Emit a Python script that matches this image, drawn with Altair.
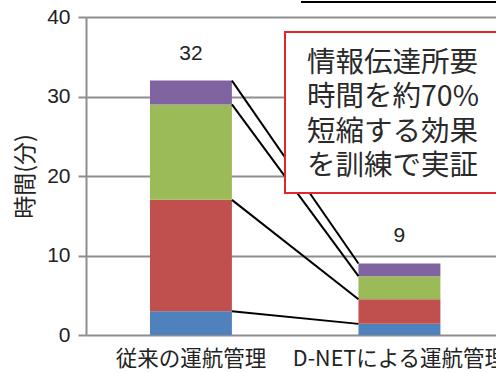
import altair as alt
import pandas as pd

# Time required per stage (minutes), stacked bottom to top
categories = ["従来の運航管理", "D-NETによる運航管理"]
stage_names = ["段階1", "段階2", "段階3", "段階4"]
stage_colors = ["#4F81BD", "#C0504D", "#9BBB59", "#8064A2"]
conventional = [3, 14, 12, 3]
dnet = [1.4, 3.1, 2.9, 1.6]
y_ticks = [0, 10, 20, 30, 40]
callout_lines = ["情報伝達所要", "時間を約70%", "短縮する効果", "を訓練で実証"]
y_title = "時間(分)"

CJK = "Noto Sans CJK JP"
LATIN = "Liberation Sans"
GRID = "#8e8e8e"
INK = "#222222"

rows = []
for cat, vals in zip(categories, [conventional, dnet]):
    for i, (name, v) in enumerate(zip(stage_names, vals)):
        rows.append({"category": cat, "stage": name, "idx": i, "value": v})
bars_df = pd.DataFrame(rows)

totals_df = pd.DataFrame({
    "category": categories,
    "total": [sum(conventional), sum(dnet)],
})

# Connector lines between matching segment boundaries of the two bars
def cumulative(vals):
    out, s = [], 0.0
    for v in vals:
        s += v
        out.append(s)
    return out

conn_df = pd.DataFrame({
    "src": categories[0],
    "dst": categories[1],
    "y_src": cumulative(conventional),
    "y_dst": cumulative(dnet),
})

x_scale = alt.Scale(domain=categories, paddingInner=0.607, paddingOuter=0.2867,
                    align=0.535, round=False)
y_scale = alt.Scale(domain=[0, 40], nice=False)

bars = alt.Chart(bars_df).mark_bar().encode(
    x=alt.X("category:N", scale=x_scale, sort=categories,
            axis=alt.Axis(title=None, labelAngle=0, domain=False, ticks=False,
                          labelFont=CJK, labelFontSize=21.5, labelColor=INK,
                          labelPadding=13, labelOverlap=False, labelLimit=500,
                          grid=False)),
    y=alt.Y("value:Q", stack="zero", scale=y_scale,
            axis=alt.Axis(values=y_ticks, title=y_title, titleFont=CJK,
                          titleFontSize=23, titleFontWeight="normal",
                          titleColor=INK, titlePadding=9,
                          labelFont=LATIN, labelFontSize=21, labelColor=INK,
                          labelPadding=8, tickSize=8, tickWidth=2, tickColor=GRID,
                          domainColor=GRID, domainWidth=2,
                          grid=True, gridColor=GRID, gridWidth=2)),
    color=alt.Color("stage:N", scale=alt.Scale(domain=stage_names, range=stage_colors),
                    legend=None),
    order=alt.Order("idx:Q"),
)

labels = alt.Chart(totals_df).mark_text(
    font=LATIN, fontSize=21, color=INK, dy=-27, baseline="middle"
).encode(
    x=alt.X("category:N", scale=x_scale, sort=categories),
    y=alt.Y("total:Q", scale=y_scale),
    text=alt.Text("total:Q", format=".0f"),
)

connectors = alt.Chart(conn_df).mark_rule(color="black", strokeWidth=2).encode(
    x=alt.X("src:N", scale=x_scale, bandPosition=1),
    x2=alt.X2("dst:N", bandPosition=0),
    y=alt.Y("y_src:Q", scale=y_scale),
    y2=alt.Y2("y_dst:Q"),
)

one = pd.DataFrame({"k": [0]})

callout_box = alt.Chart(one).mark_rect(
    fill="white", stroke="#E3262B", strokeWidth=2
).encode(
    x=alt.value(199), x2=alt.value(425), y=alt.value(15), y2=alt.value(176)
)

callout_text = alt.Chart(pd.DataFrame({"t": ["\n".join(callout_lines)]})).mark_text(
    font=CJK, fontSize=28.5, color="#2a2a2a", align="left", baseline="middle",
    lineBreak="\n", lineHeight=34.3
).encode(
    x=alt.value(221), y=alt.value(46), text="t:N"
)

heading_rule = alt.Chart(one).mark_rule(color="black", strokeWidth=2).encode(
    x=alt.value(215), x2=alt.value(420), y=alt.value(-15)
)

chart = alt.layer(
    bars, labels, connectors, callout_box, callout_text, heading_rule
).properties(
    width=410, height=318,
    padding={"left": 86, "top": 17, "right": 0, "bottom": 38},
    autosize=alt.AutoSizeParams(type="none"),
    background="white",
).configure_view(stroke=None)

chart.save("out.html", embed_options={"renderer": "svg", "actions": False})
